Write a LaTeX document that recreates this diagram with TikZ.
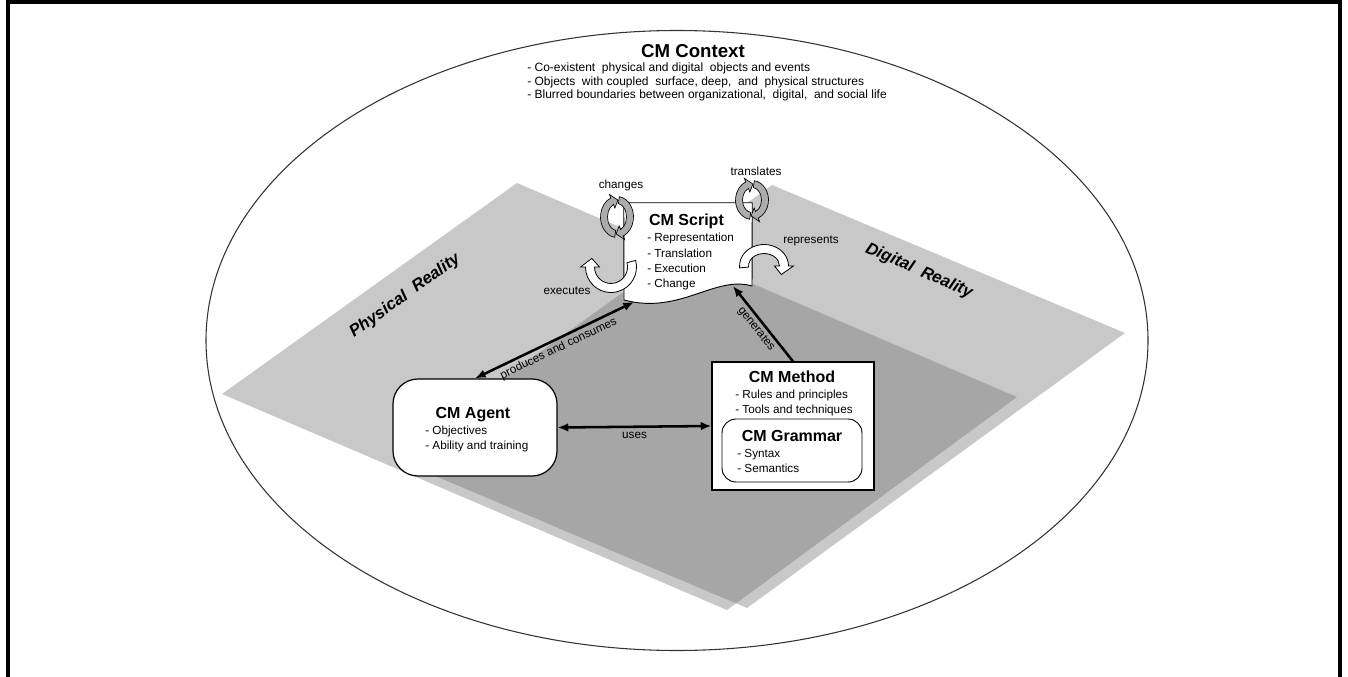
\documentclass[tikz,border=0pt]{standalone}
\usepackage{fontspec}
\setmainfont{Liberation Sans}
\usetikzlibrary{arrows.meta,calc}
\definecolor{planelight}{RGB}{200,200,200}
\definecolor{planedark}{RGB}{166,166,166}
\definecolor{ringgray}{RGB}{172,172,172}
\newcommand{\fhead}{\fontsize{12}{14}\selectfont\bfseries}
\newcommand{\fitem}{\fontsize{8.8}{11.4}\selectfont}
\newcommand{\fctx}{\fontsize{9}{10.1}\selectfont}
\newcommand{\fctxhead}{\fontsize{14}{16}\selectfont\bfseries}
\newcommand{\flab}{\fontsize{8.8}{10}\selectfont}
\newcommand{\fplane}{\fontsize{12.5}{14}\selectfont\bfseries\itshape}
% curved band arrow: cx cy rx ry start end halfwidth tipdeg style
\newcommand{\bandarrow}[9]{%
  \pgfmathsetmacro\bxo{#3+#7}\pgfmathsetmacro\byo{#4+#7}%
  \pgfmathsetmacro\bxi{#3-#7}\pgfmathsetmacro\byi{#4-#7}%
  \pgfmathsetmacro\bxoo{#3+2.1*#7}\pgfmathsetmacro\byoo{#4+2.1*#7}%
  \pgfmathsetmacro\bxii{#3-2.1*#7}\pgfmathsetmacro\byii{#4-2.1*#7}%
  \pgfmathsetmacro\btip{#6+#8}%
  \filldraw[#9] ([shift={(#1,#2)}]#5:{\bxo} and {\byo})
    arc[start angle=#5, end angle=#6, x radius=\bxo, y radius=\byo]
    -- ([shift={(#1,#2)}]#6:{\bxoo} and {\byoo})
    -- ([shift={(#1,#2)}]\btip:#3 and #4)
    -- ([shift={(#1,#2)}]#6:{\bxii} and {\byii})
    -- ([shift={(#1,#2)}]#6:{\bxi} and {\byi})
    arc[start angle=#6, end angle=#5, x radius=\bxi, y radius=\byi] -- cycle;
}
\tikzset{
  conn/.style={line width=1.9pt, line cap=butt},
  lab/.style={font=\flab, inner sep=1pt},
  itemtxt/.style={font=\fitem, align=left, anchor=north west, inner sep=0pt},
  headtxt/.style={font=\fhead, anchor=base, inner sep=0pt},
  ringstyle/.style={fill=ringgray, draw=black, line width=0.5pt},
  ustyle/.style={fill=white, draw=black, line width=0.6pt},
}
\begin{document}
\begin{tikzpicture}[x=0.75pt, y=0.75pt]
\useasboundingbox (0,0) rectangle (1348,-677);
% frame (open at bottom)
\draw[line width=3pt, line join=miter] (8,-677) -- (8,-2) -- (1340,-2) -- (1340,-677);
% context ellipse
\draw[black!80, line width=0.8pt] (677,-340.5) ellipse [x radius=471, y radius=310];
% planes
\coordinate (A1) at (222,-394); \coordinate (A2) at (517,-183);
\coordinate (A3) at (1017,-397); \coordinate (A4) at (727,-610);
\coordinate (B1) at (772,-185); \coordinate (B2) at (1125,-333);
\coordinate (B3) at (747,-608); \coordinate (B4) at (393,-458);
\fill[planelight] (A1) -- (A2) -- (A3) -- (A4) -- cycle;
\fill[planelight] (B1) -- (B2) -- (B3) -- (B4) -- cycle;
\begin{scope}
  \clip (A1) -- (A2) -- (A3) -- (A4) -- cycle;
  \fill[planedark] (B1) -- (B2) -- (B3) -- (B4) -- cycle;
\end{scope}
\node[font=\fplane, rotate=35.8] (phys) at (405,-296) {Physical~~Reality};
\node[font=\fplane, rotate=-23.5] (digi) at (919,-271) {Digital~~Reality};
% context text
\node[font=\fctxhead, anchor=base, inner sep=0pt] (ctxh) at (693,-57.5) {CM Context};
\node[font=\fctx, align=left, anchor=north west, inner sep=0pt] (ctxt) at (527,-63)
  {- Co-existent~ physical and digital~ objects and events\\
   - Objects~ with coupled~ surface, deep,~ and~ physical structures\\
   - Blurred boundaries between organizational,~ digital,~ and social life};
% script
\node[minimum width=96pt, minimum height=72.75pt, inner sep=0pt] (script) at (688,-251.5) {};
\draw[fill=white, line width=0.7pt] (script.north west) -- (script.north east) -- (752,-286)
  .. controls (715,-275) and (680,-315) .. (624,-300) -- cycle;
\coordinate (scrA) at (634,-302);
\coordinate (scrB) at (733,-286);
\node[headtxt] (scrh) at (686.5,-225.7) {CM Script};
\node[itemtxt, font=\fontsize{8.8}{11.5}\selectfont] (scrt) at (647,-233)
  {- Representation\\- Translation\\- Execution\\- Change};
% agent
\node[draw, fill=white, line width=0.9pt, rounded corners=18.75pt,
      minimum width=123pt, minimum height=72.75pt, inner sep=0pt] (agent) at (475,-427.5) {};
\node[headtxt] (agh) at (473,-418.7) {CM Agent};
\node[itemtxt, font=\fontsize{8.8}{11.25}\selectfont] (agt) at (425,-426)
  {- Objectives\\- Ability and training};
% method
\node[draw, fill=white, line width=0.9pt,
      minimum width=121.5pt, minimum height=96pt, inner sep=0pt] (method) at (793,-426) {};
\node[headtxt] (meh) at (792,-382.7) {CM Method};
\node[itemtxt, font=\fontsize{8.8}{11.25}\selectfont] (met) at (735,-390)
  {- Rules and principles\\- Tools and techniques};
\node[draw, fill=white, line width=0.7pt, rounded corners=10.5pt,
      minimum width=105pt, minimum height=47.25pt, inner sep=0pt] (grammar) at (792,-450.5) {};
\node[headtxt] (grh) at (792,-441.7) {CM Grammar};
\node[itemtxt, font=\fontsize{8.8}{11.25}\selectfont] (grt) at (737,-449)
  {- Syntax\\- Semantics};
% connectors
\draw[conn, {Latex[length=8pt,width=6.5pt]}-{Latex[length=8pt,width=6.5pt]}]
  (agent.north) -- node[lab, sloped, below=1pt] {produces and consumes} (scrA);
\draw[conn, -{Latex[length=8pt,width=6.5pt]}]
  (method.north) -- node[lab, sloped, below=1pt] {generates} (scrB);
\draw[conn, {Latex[length=8pt,width=6.5pt]}-{Latex[length=8pt,width=6.5pt]}]
  (agent.east) -- node[lab, below=2pt] {uses} (method.west);
% cycle icons
\bandarrow{617}{-217}{13}{17}{262}{112}{3.5}{-26}{ringstyle}
\bandarrow{617}{-217}{13}{17}{82}{-68}{3.5}{-26}{ringstyle}
\bandarrow{752}{-200}{13}{16}{262}{112}{3.5}{-26}{ringstyle}
\bandarrow{752}{-200}{13}{16}{82}{-68}{3.5}{-26}{ringstyle}
\bandarrow{611}{-267}{21}{21}{15}{-180}{4.5}{-24}{ustyle}
\bandarrow{764}{-266}{20}{17}{185}{0}{4.5}{-30}{ustyle}
% icon labels
\node[lab] (lchg) at (621,-185) {changes};
\node[lab] (ltrn) at (756,-171) {translates};
\node[lab] (lrep) at (811,-241) {represents};
\node[lab] (lexe) at (567,-291) {executes};
\end{tikzpicture}
\end{document}
